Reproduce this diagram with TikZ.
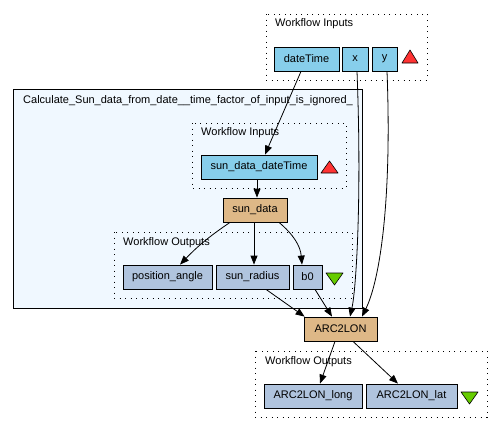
\documentclass[tikz,border=0pt]{standalone}
\usepackage{fontspec}
\setmainfont{Liberation Sans}
\usetikzlibrary{arrows.meta}
\definecolor{inputblue}{HTML}{87CEEB}
\definecolor{outputblue}{HTML}{B0C4DE}
\definecolor{procbrown}{HTML}{DEB887}
\definecolor{clusterfill}{HTML}{F0F8FF}
\definecolor{trired}{HTML}{FF3333}
\definecolor{trigreen}{HTML}{66CC00}
\begin{document}
\begin{tikzpicture}[x=1pt,y=-1pt,
  font=\fontsize{11}{13}\selectfont,
  box/.style={draw=black,line width=0.8pt,minimum height=24pt,inner sep=0pt},
  inbox/.style={box,fill=inputblue},
  outbox/.style={box,fill=outputblue},
  procbox/.style={box,fill=procbrown},
  portgroup/.style={draw=black,line width=1pt,dash pattern=on 1pt off 4.5pt},
  grouplabel/.style={anchor=west,inner sep=0pt},
  edge/.style={line width=0.8pt,-{Triangle[length=9pt,width=7pt]}},
  tri/.style={draw=black,line width=0.6pt,line join=round}]
  \useasboundingbox (0,0) rectangle (500,431);
  % nested workflow
  \draw[fill=clusterfill,line width=0.8pt] (13,89) rectangle (362,308);
  \node[grouplabel] (nestedlabel) at (23,101) {Calculate\_Sun\_data\_from\_date\_\_time\_factor\_of\_input\_is\_ignored\_};
  % port groups
  \draw[portgroup] (266,14) rectangle (427,80);
  \node[grouplabel] (inlabel) at (275,24) {Workflow Inputs};
  \draw[portgroup] (192,123) rectangle (346,188);
  \node[grouplabel] (nestinlabel) at (201,133) {Workflow Inputs};
  \draw[portgroup] (114,232) rectangle (352,298);
  \node[grouplabel] (nestoutlabel) at (123,243) {Workflow Outputs};
  \draw[portgroup] (255,351) rectangle (487,417);
  \node[grouplabel] (outlabel) at (265,362) {Workflow Outputs};
  % nodes
  \node[inbox,minimum width=65pt] (dateTime) at (306.5,59) {dateTime};
  \node[inbox,minimum width=26pt] (x) at (355,59) {x};
  \node[inbox,minimum width=25pt] (y) at (384.5,59) {y};
  \node[inbox,minimum width=116pt] (sddt) at (259,167) {sun\_data\_dateTime};
  \node[procbox,minimum width=64pt] (sd) at (255,210) {sun\_data};
  \node[outbox,minimum width=89pt] (pa) at (167.5,277) {position\_angle};
  \node[outbox,minimum width=73pt] (sr) at (252.5,277) {sun\_radius};
  \node[outbox,minimum width=29pt] (b0) at (307.5,277) {b0};
  \node[procbox,minimum width=73pt] (arc) at (340.5,329) {ARC2LON};
  \node[outbox,minimum width=98pt] (along) at (313,396) {ARC2LON\_long};
  \node[outbox,minimum width=91pt] (alat) at (411.5,396) {ARC2LON\_lat};
  % triangles
  \filldraw[tri,fill=trired] (402,63) -- (418,63) -- (410,50) -- cycle;
  \filldraw[tri,fill=trired] (321,173) -- (338,173) -- (329.5,161) -- cycle;
  \filldraw[tri,fill=trigreen] (326,273) -- (343,273) -- (334.5,285) -- cycle;
  \filldraw[tri,fill=trigreen] (461,392) -- (478,392) -- (469.5,404) -- cycle;
  % links
  \draw[edge] ([xshift=-5.5pt]dateTime.south) -- ([xshift=6pt]sddt.north);
  \draw[edge] ([xshift=-2pt]sddt.south) -- ([xshift=2pt]sd.north);
  \draw[edge] ([xshift=-25pt]sd.south) to[bend right=6] ([xshift=12.5pt]pa.north);
  \draw[edge] ([xshift=-1pt]sd.south) -- ([xshift=1.5pt]sr.north);
  \draw[edge] ([xshift=24pt]sd.south) to[out=-40,in=95] ([xshift=-5.5pt]b0.north);
  \draw[edge] ([xshift=2pt]x.south) .. controls (362,200) and (356,290) .. ([xshift=9.5pt]arc.north);
  \draw[edge] ([xshift=2.5pt]y.south) .. controls (392,200) and (380,280) .. ([xshift=21.5pt]arc.north);
  \draw[edge] ([xshift=13.5pt]sr.south) -- ([xshift=1pt]arc.north west);
  \draw[edge] ([xshift=7.5pt]b0.south) -- ([xshift=-8.5pt]arc.north);
  \draw[edge] ([xshift=-5.5pt]arc.south) -- ([xshift=7pt]along.north);
  \draw[edge] ([xshift=12.5pt]arc.south) -- ([xshift=-13.5pt]alat.north);
\end{tikzpicture}
\end{document}
